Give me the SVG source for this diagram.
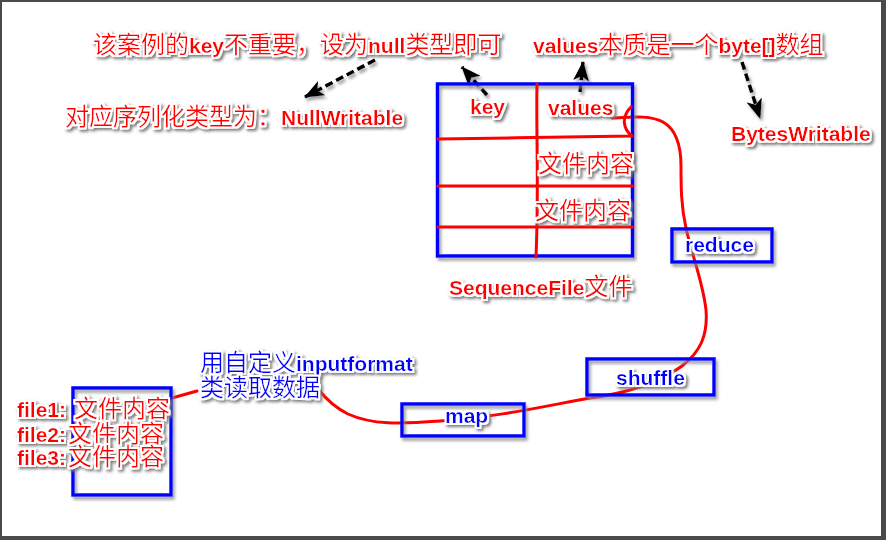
<svg xmlns="http://www.w3.org/2000/svg" width="886" height="540" viewBox="0 0 886 540">
<defs>
<style>
.t{font-family:"Liberation Sans","Noto Sans CJK SC",sans-serif;filter:url(#glow)}
.l{font-family:"Liberation Sans",Arial,sans-serif;font-weight:bold;font-size:21px}
.c{font-family:"Noto Sans CJK SC","Liberation Sans",sans-serif;font-size:24px;font-weight:normal}
.r{fill:#ff0000}
.b{fill:#0000ff}
.box{fill:none;stroke:#0000ff;stroke-width:3.5;filter:url(#shadow)}
.red{fill:none;stroke:#ff0000;stroke-width:3;stroke-linecap:round;stroke-linejoin:round}
.dash{fill:none;stroke:#000;stroke-width:3.5;stroke-dasharray:8 4;marker-end:url(#ah);filter:url(#shadow)}
</style>
<filter id="glow" filterUnits="userSpaceOnUse" x="0" y="0" width="886" height="540">
<feMorphology in="SourceAlpha" operator="dilate" radius="1.8" result="d"/>
<feGaussianBlur in="d" stdDeviation="1.6" result="bl"/>
<feOffset in="bl" dx="1.5" dy="2" result="o"/>
<feFlood flood-color="#7a7a7a"/>
<feComposite in2="o" operator="in" result="sh"/>
<feFlood flood-color="#ffffff"/>
<feComposite in2="d" operator="in" result="w"/>
<feMerge><feMergeNode in="sh"/><feMergeNode in="w"/><feMergeNode in="SourceGraphic"/></feMerge>
</filter>
<filter id="shadow" filterUnits="userSpaceOnUse" x="0" y="0" width="886" height="540">
<feDropShadow dx="2" dy="3" stdDeviation="1.8" flood-color="#888" flood-opacity="0.8"/>
</filter>
<marker id="ah" viewBox="0 0 20 16" refX="19" refY="8" markerWidth="20" markerHeight="16" markerUnits="userSpaceOnUse" orient="auto">
<path d="M0,0 L20,8 L0,16 L5,8 Z" fill="#000"/>
</marker>
</defs>
<rect x="0" y="0" width="886" height="540" fill="#4a4a4a"/>
<rect x="2" y="2" width="879" height="534" fill="#ffffff"/>

<g id="connectors">
<path class="red" d="M612,118 C632,117 650,115 663,122 C677,130 681,146 681,166 C681,186 681,206 686,228 C692,256 703,282 706,310 C708,336 700,352 682,366 C658,384 622,394 590,398 C550,405 500,417 440,421 C400,424 372,425 348,414 C334,407 326,399 319,390"/>
<path class="red" d="M172,398 L197,391"/>
<path class="dash" d="M375,60 L305,97"/>
<path class="dash" d="M487,95 L462,67"/>
<path class="dash" d="M580,92 L583,62"/>
<path class="dash" d="M742,62 L760,118"/>
</g>

<g id="note-key">
<text class="t r" x="93" y="53"><tspan class="c">该案例的</tspan><tspan class="l">key</tspan><tspan class="c">不重要，设为</tspan><tspan class="l">null</tspan><tspan class="c">类型即可</tspan></text>
</g>
<g id="note-values">
<text class="t r" x="533" y="53"><tspan class="l">values</tspan><tspan class="c">本质是一个</tspan><tspan class="l">byte[]</tspan><tspan class="c">数组</tspan></text>
</g>
<g id="null-writable">
<text class="t r" x="65" y="125"><tspan class="c">对应序列化类型为：</tspan><tspan class="l">NullWritable</tspan></text>
</g>
<g id="bytes-writable">
<text class="t r l" x="731" y="141">BytesWritable</text>
</g>

<g id="sequencefile">
<rect class="box" x="437.5" y="84" width="195" height="172"/>
<path class="red" d="M537,84 C536,130 539,190 536,257"/>
<path class="red" d="M438,139 C500,138 580,137 632,136 C623,129 621,117 631,107"/>
<path class="red" d="M438,186 L633,186"/>
<path class="red" d="M438,227 L633,227"/>
<text class="t r l" x="470" y="114">key</text>
<text class="t r l" x="548" y="115">values</text>
<text class="t r c" x="538" y="172">文件内容</text>
<text class="t r c" x="535" y="219">文件内容</text>
<text class="t r" x="449" y="295"><tspan class="l">SequenceFile</tspan><tspan class="c">文件</tspan></text>
</g>

<g id="reduce">
<rect class="box" x="672" y="229" width="100" height="33"/>
<text class="t b l" x="685" y="252">reduce</text>
</g>
<g id="shuffle">
<rect class="box" x="587" y="359" width="127" height="36"/>
<text class="t b l" x="616" y="385">shuffle</text>
</g>
<g id="map">
<rect class="box" x="402" y="404" width="122" height="32"/>
<text class="t b l" x="445" y="423">map</text>
</g>
<g id="inputformat">
<text class="t b" x="200" y="371"><tspan class="c">用自定义</tspan><tspan class="l">inputformat</tspan></text>
<text class="t b c" x="200" y="396">类读取数据</text>
</g>
<g id="input-files">
<rect class="box" x="73" y="388" width="98" height="107"/>
<text class="t r" x="17" y="417"><tspan class="l">file1:</tspan><tspan class="c" x="74">文件内容</tspan></text>
<text class="t r" x="17" y="442"><tspan class="l">file2:</tspan><tspan class="c" x="68">文件内容</tspan></text>
<text class="t r" x="17" y="465"><tspan class="l">file3:</tspan><tspan class="c" x="68">文件内容</tspan></text>
</g>
</svg>
